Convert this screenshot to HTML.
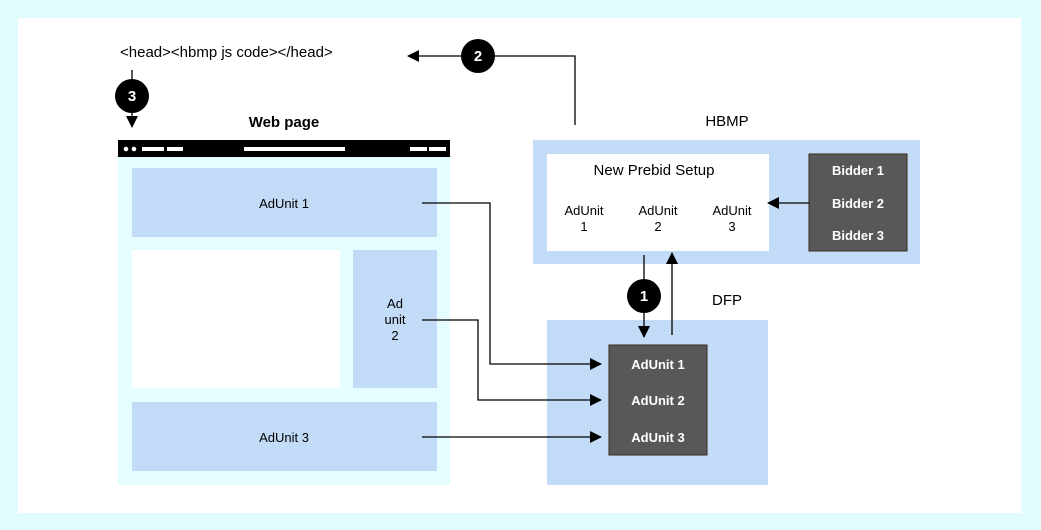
<!DOCTYPE html>
<html><head><style>
html,body{margin:0;padding:0;background:#e0fcfc;}
svg{display:block;font-family:"Liberation Sans",sans-serif;}
</style></head><body>
<svg width="1041" height="530" viewBox="0 0 1041 530" xmlns="http://www.w3.org/2000/svg">
<rect width="1041" height="530" fill="#e0fcfc"/>
<rect x="18" y="18" width="1003" height="495" fill="#ffffff"/>
<defs><marker id="a" markerWidth="12" markerHeight="12" refX="11" refY="6" orient="auto" markerUnits="userSpaceOnUse"><path d="M0,0 L12,6 L0,12 z" fill="#000"/></marker></defs>
<text x="120" y="57" font-size="15" fill="#000">&lt;head&gt;&lt;hbmp js code&gt;&lt;/head&gt;</text>
<text x="284" y="127" font-size="15" font-weight="bold" text-anchor="middle">Web page</text>
<rect x="118" y="157" width="332" height="328" fill="#e6fdff"/>
<rect x="118" y="140" width="332" height="17" fill="#000"/>
<circle cx="126" cy="149" r="2.3" fill="#fff"/><circle cx="134" cy="149" r="2.3" fill="#fff"/>
<rect x="142" y="147" width="22" height="4" fill="#fff"/><rect x="167" y="147" width="16" height="4" fill="#fff"/>
<rect x="244" y="147" width="101" height="4" fill="#fff"/>
<rect x="410" y="147" width="17" height="4" fill="#fff"/><rect x="429" y="147" width="17" height="4" fill="#fff"/>
<rect x="132" y="168" width="305" height="69" fill="#c2dbf7"/>
<text x="284" y="208" font-size="13" text-anchor="middle">AdUnit 1</text>
<rect x="132" y="250" width="208" height="138" fill="#fff"/>
<rect x="353" y="250" width="84" height="138" fill="#c2dbf7"/>
<text x="395" y="308" font-size="13" text-anchor="middle">Ad</text>
<text x="395" y="324" font-size="13" text-anchor="middle">unit</text>
<text x="395" y="340" font-size="13" text-anchor="middle">2</text>
<rect x="132" y="402" width="305" height="69" fill="#c2dbf7"/>
<text x="284" y="442" font-size="13" text-anchor="middle">AdUnit 3</text>
<text x="727" y="126" font-size="15" text-anchor="middle">HBMP</text>
<rect x="533" y="140" width="387" height="124" fill="#c2dbf7"/>
<rect x="547" y="154" width="222" height="97" fill="#fff"/>
<text x="654" y="175" font-size="15" text-anchor="middle">New Prebid Setup</text>
<g font-size="13" text-anchor="middle">
<text x="584" y="215">AdUnit</text><text x="584" y="231">1</text>
<text x="658" y="215">AdUnit</text><text x="658" y="231">2</text>
<text x="732" y="215">AdUnit</text><text x="732" y="231">3</text>
</g>
<rect x="809" y="154" width="98" height="97" fill="#58585a" stroke="#3a2a1a"/>
<g font-size="13" font-weight="bold" fill="#fff" text-anchor="middle">
<text x="858" y="175">Bidder 1</text><text x="858" y="208">Bidder 2</text><text x="858" y="240">Bidder 3</text>
</g>
<text x="727" y="305" font-size="15" text-anchor="middle">DFP</text>
<rect x="547" y="320" width="221" height="165" fill="#c2dbf7"/>
<rect x="609" y="345" width="98" height="110" fill="#58585a" stroke="#3a2a1a"/>
<g font-size="13" font-weight="bold" fill="#fff" text-anchor="middle">
<text x="658" y="369">AdUnit 1</text><text x="658" y="405">AdUnit 2</text><text x="658" y="442">AdUnit 3</text>
</g>
<g stroke="#000" stroke-width="1.3" fill="none">
<polyline points="575,125 575,56 408,56" marker-end="url(#a)"/>
<polyline points="132,70 132,127" marker-end="url(#a)"/>
<polyline points="644,255 644,337" marker-end="url(#a)"/>
<polyline points="672,335 672,253" marker-end="url(#a)"/>
<polyline points="809,203 768,203" marker-end="url(#a)"/>
<polyline points="422,203 490,203 490,364 601,364" marker-end="url(#a)"/>
<polyline points="422,320 478,320 478,400 601,400" marker-end="url(#a)"/>
<polyline points="422,437 601,437" marker-end="url(#a)"/>
</g>
<g font-size="15" font-weight="bold" fill="#fff" text-anchor="middle">
<circle cx="478" cy="56" r="17" fill="#000"/><text x="478" y="61">2</text>
<circle cx="132" cy="96" r="17" fill="#000"/><text x="132" y="101">3</text>
<circle cx="644" cy="296" r="17" fill="#000"/><text x="644" y="301">1</text>
</g>
</svg>
</body></html>
